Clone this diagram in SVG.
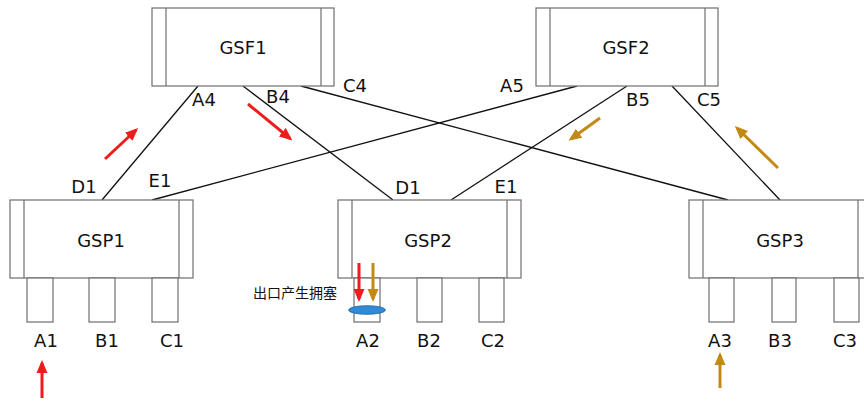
<svg xmlns="http://www.w3.org/2000/svg" width="864" height="401" viewBox="0 0 864 401">
<defs>
<style>
.box{fill:#fff;stroke:#6e6e6e;stroke-width:1.2}
.sep{stroke:#6e6e6e;stroke-width:1.2}
.t{font-family:"DejaVu Sans",Verdana,sans-serif;font-size:18px;fill:#111;text-anchor:middle}
.cn{font-family:"Noto Sans CJK SC",sans-serif;font-size:14px;fill:#111}
.ln{stroke:#111;stroke-width:1.3;fill:none}
.red{stroke:#ee1c1c;stroke-width:3;fill:none;marker-end:url(#hr)}
.gold{stroke:#c28a14;stroke-width:3;fill:none;marker-end:url(#hg)}
</style>
<marker id="hr" markerUnits="userSpaceOnUse" markerWidth="13" markerHeight="12" refX="10" refY="6" orient="auto">
<path d="M0,0.5 L13,6 L0,11.5 z" fill="#ee1c1c"/>
</marker>
<marker id="hg" markerUnits="userSpaceOnUse" markerWidth="13" markerHeight="12" refX="10" refY="6" orient="auto">
<path d="M0,0.5 L13,6 L0,11.5 z" fill="#c28a14"/>
</marker>
</defs>
<rect width="864" height="401" fill="#fff"/>

<g id="connectors">
<line class="ln" x1="198" y1="86" x2="102" y2="200"/>
<line class="ln" x1="243" y1="86" x2="393" y2="200"/>
<line class="ln" x1="301" y1="86" x2="728" y2="200"/>
<line class="ln" x1="152" y1="200" x2="577" y2="86"/>
<line class="ln" x1="451" y1="200" x2="627" y2="86"/>
<line class="ln" x1="672" y1="86" x2="780" y2="200"/>
</g>

<g id="GSF1">
<rect class="box" x="152" y="8" width="182" height="78"/>
<line class="sep" x1="166" y1="8" x2="166" y2="86"/>
<line class="sep" x1="321" y1="8" x2="321" y2="86"/>
<text class="t" x="243" y="54">GSF1</text>
<text class="t" x="204" y="106">A4</text>
<text class="t" x="278" y="103">B4</text>
<text class="t" x="355" y="92">C4</text>
</g>

<g id="GSF2">
<rect class="box" x="536" y="8" width="182" height="78"/>
<line class="sep" x1="550" y1="8" x2="550" y2="86"/>
<line class="sep" x1="705" y1="8" x2="705" y2="86"/>
<text class="t" x="626" y="54">GSF2</text>
<text class="t" x="512" y="92">A5</text>
<text class="t" x="638" y="106">B5</text>
<text class="t" x="709" y="106">C5</text>
</g>

<g id="GSP1">
<rect class="box" x="10" y="200" width="183" height="78"/>
<line class="sep" x1="24" y1="200" x2="24" y2="278"/>
<line class="sep" x1="179" y1="200" x2="179" y2="278"/>
<rect class="box" x="27" y="278" width="26" height="44"/>
<rect class="box" x="89" y="278" width="26" height="44"/>
<rect class="box" x="152" y="278" width="26" height="44"/>
<text class="t" x="101" y="247">GSP1</text>
<text class="t" x="84" y="193">D1</text>
<text class="t" x="160" y="187">E1</text>
<text class="t" x="46" y="347">A1</text>
<text class="t" x="107" y="347">B1</text>
<text class="t" x="172" y="347">C1</text>
</g>

<g id="GSP2">
<rect class="box" x="338" y="200" width="183" height="78"/>
<line class="sep" x1="352" y1="200" x2="352" y2="278"/>
<line class="sep" x1="507" y1="200" x2="507" y2="278"/>
<rect class="box" x="354" y="278" width="26" height="44"/>
<rect class="box" x="417" y="278" width="25" height="44"/>
<rect class="box" x="479" y="278" width="25" height="44"/>
<text class="t" x="428" y="247">GSP2</text>
<text class="t" x="408" y="194">D1</text>
<text class="t" x="506" y="193">E1</text>
<text class="t" x="368" y="347">A2</text>
<text class="t" x="429" y="347">B2</text>
<text class="t" x="493" y="347">C2</text>
</g>

<g id="GSP3">
<rect class="box" x="689" y="200" width="183" height="78"/>
<line class="sep" x1="703" y1="200" x2="703" y2="278"/>
<line class="sep" x1="858" y1="200" x2="858" y2="278"/>
<rect class="box" x="709" y="278" width="25" height="44"/>
<rect class="box" x="772" y="278" width="24" height="44"/>
<rect class="box" x="834" y="278" width="25" height="44"/>
<text class="t" x="780" y="247">GSP3</text>
<text class="t" x="720" y="347">A3</text>
<text class="t" x="780" y="347">B3</text>
<text class="t" x="845" y="347">C3</text>
</g>

<g id="congestion">
<ellipse cx="367" cy="310" rx="18.5" ry="4.3" fill="#2f8ad8" stroke="#1f5f9a" stroke-width="0.8"/>
<text class="cn" x="253" y="298">出口产生拥塞</text>
</g>

<g id="flows">
<line class="red" x1="105" y1="159" x2="136" y2="130"/>
<line class="red" x1="248" y1="104" x2="290" y2="138.5"/>
<line class="red" x1="42" y1="398" x2="42" y2="363"/>
<line class="red" x1="359" y1="263" x2="359" y2="299"/>
<line class="gold" x1="373" y1="263" x2="373" y2="299"/>
<line class="gold" x1="600" y1="118" x2="571" y2="139"/>
<line class="gold" x1="778" y1="168" x2="737" y2="128"/>
<line class="gold" x1="720" y1="388" x2="720" y2="355"/>
</g>
</svg>
